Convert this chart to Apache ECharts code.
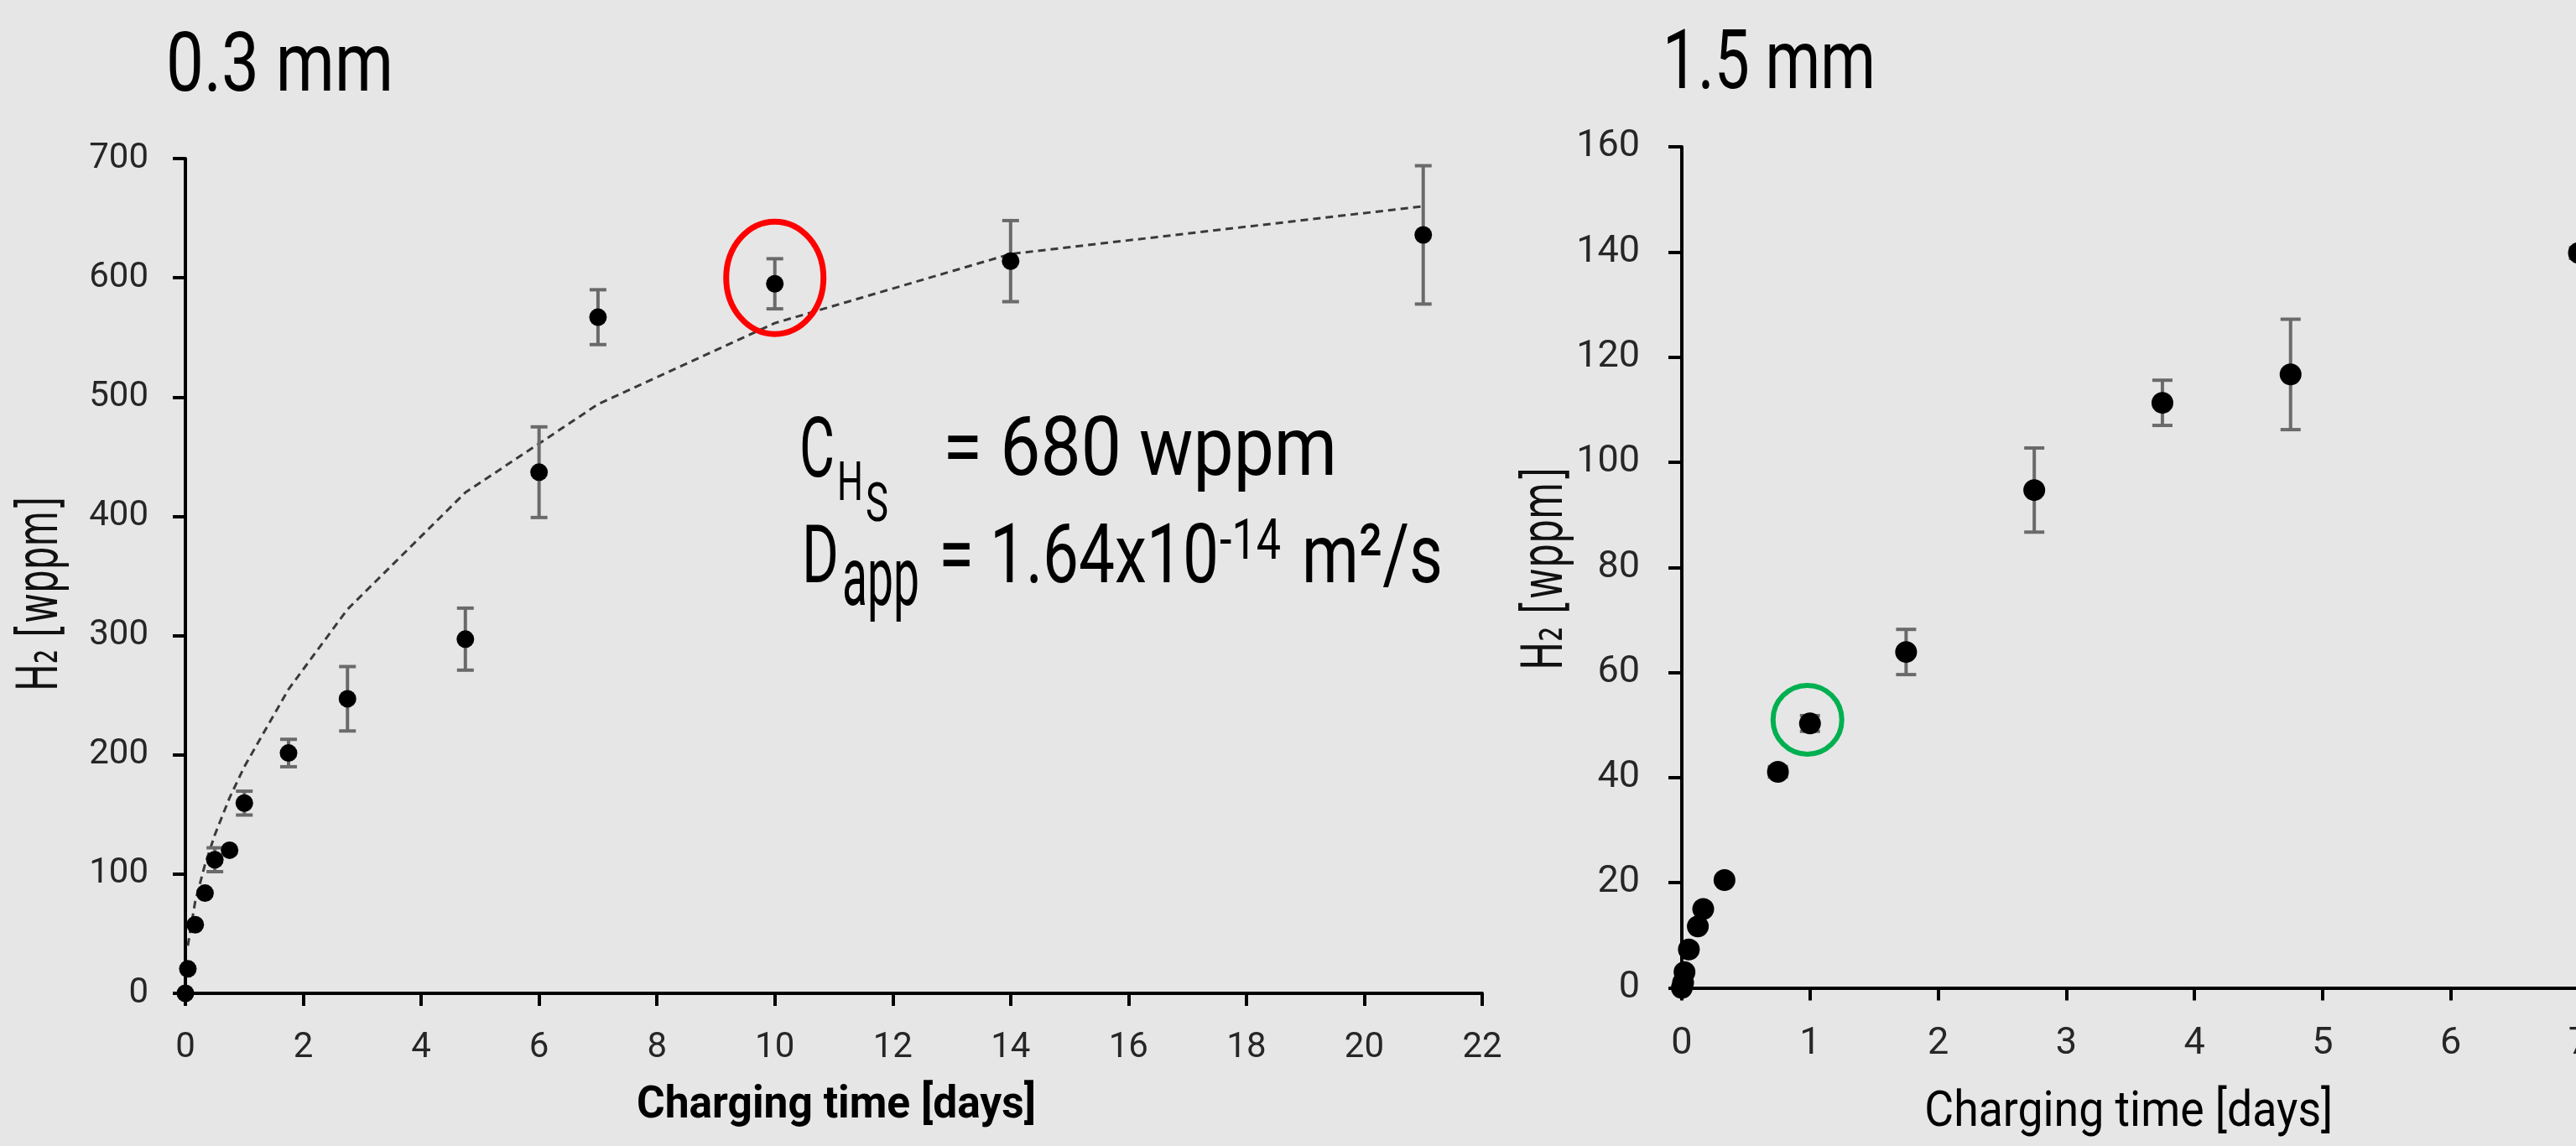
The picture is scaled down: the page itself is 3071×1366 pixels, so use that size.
<!DOCTYPE html>
<html>
<head>
<meta charset="utf-8">
<script src="https://cdn.jsdelivr.net/npm/echarts@6/dist/echarts.min.js"></script>
<style>
html,body{margin:0;padding:0;background:#e6e6e6;}
#c{width:3071px;height:1366px;}
</style>
</head>
<body>
<div id="c"></div>
<script>
// ---------------- DATA ----------------
// 0.3 mm sheet
const daysThin = [0, 0.042, 0.167, 0.333, 0.5, 0.75, 1, 1.75, 2.75, 4.75, 6, 7, 10, 14, 21];
const h2Thin   = [0, 20.5, 57.5, 84, 112, 120, 159.5, 201.5, 247, 297, 437, 567, 595, 614, 636];
const errThin  = [0, 0, 0, 0, 10, 0, 10, 11.5, 27, 26, 38, 23, 21, 34, 58];
// dashed fit curve (0.3 mm)
const fitDaysThin = [0.042, 0.167, 0.333, 0.5, 0.75, 1, 1.75, 2.75, 4.75, 6, 7, 10, 14, 21];
const fitThin     = [40, 77, 108, 133, 164, 190, 255, 322, 420, 461, 494, 562, 620, 660];
// highlighted point (red ring)
const highlightThin = [10, 600];

// 1.5 mm sheet
const daysThick = [0, 0.01, 0.021, 0.055, 0.125, 0.167, 0.333, 0.75, 1, 1.75, 2.75, 3.75, 4.75, 7];
const h2Thick   = [0, 1, 3, 7.3, 11.7, 15, 20.5, 41.1, 50.3, 63.9, 94.7, 111.3, 116.7, 139.8];
const errThick  = [0, 0, 0, 0, 0, 0, 0, 1, 1.5, 4.3, 8, 4.3, 10.5, 1];
// highlighted point (green ring)
const highlightThick = [0.98, 51];

// axis ticks
const xTicksThin  = {min: 0, max: 22, interval: 2};
const yTicksThin  = {min: 0, max: 700, interval: 100};
const xTicksThick = {min: 0, max: 7, interval: 1};
const yTicksThick = {min: 0, max: 160, interval: 20};

// texts
const titleThin = '0.3 mm';
const titleThick = '1.5 mm';
const xName = 'Charging time [days]';
const yName = 'H\u2082 [wppm]';

// ---------------- LAYOUT ----------------
const G1 = {left: 221, top: 189, width: 1546, height: 995};
const G2 = {left: 2005, top: 175, width: 1069.5, height: 1002.5};
const FONT = 'Roboto, "Liberation Sans", sans-serif';
const TICKFONT = 'Roboto, "Liberation Sans", sans-serif';

const mctx = document.createElement('canvas').getContext('2d');
function fitText(str, o) {
  const weight = o.weight || 'normal';
  const fam = o.family || FONT;
  mctx.font = weight + ' ' + o.size + 'px ' + fam;
  const nat = mctx.measureText(str).width || 1;
  const sx = o.width ? o.width / nat : 1;
  return {
    type: 'text', silent: true, z: 20,
    x: o.x,
    y: (o.baseline !== undefined) ? o.baseline - 0.3415 * o.size : o.y,
    rotation: o.rotation || 0,
    scaleX: sx,
    style: {
      text: str, fontSize: o.size, fontFamily: fam, fontWeight: weight,
      fill: o.color || '#000', align: o.align || 'left', verticalAlign: 'middle'
    }
  };
}

function axisCommon(fontSize, margin, tickLen) {
  return {
    axisLine: {show: true, onZero: false, lineStyle: {color: '#000', width: 4}},
    axisTick: {show: true, inside: false, length: tickLen, lineStyle: {color: '#000', width: 4}},
    splitLine: {show: false},
    axisLabel: {color: '#262626', fontSize: fontSize, fontFamily: TICKFONT, margin: margin}
  };
}

function errRender(capHalf, color, lw) {
  return function (params, api) {
    const x = api.value(0), y = api.value(1), e = api.value(2);
    if (!(e > 0)) return {type: 'group', children: []};
    const t = api.coord([x, y + e]);
    const b = api.coord([x, y - e]);
    const st = {stroke: color, lineWidth: lw};
    return {type: 'group', children: [
      {type: 'line', shape: {x1: t[0], y1: t[1], x2: b[0], y2: b[1]}, style: st},
      {type: 'line', shape: {x1: t[0] - capHalf, y1: t[1], x2: t[0] + capHalf, y2: t[1]}, style: st},
      {type: 'line', shape: {x1: b[0] - capHalf, y1: b[1], x2: b[0] + capHalf, y2: b[1]}, style: st}
    ]};
  };
}
function ringRender(rx, ry, color, lw) {
  return function (params, api) {
    const c = api.coord([api.value(0), api.value(1)]);
    return {type: 'ellipse', shape: {cx: c[0], cy: c[1], rx: rx, ry: ry},
            style: {fill: 'none', stroke: color, lineWidth: lw}};
  };
}

const zip3 = (a, b, c) => a.map((v, i) => [v, b[i], c[i]]);
const zip2 = (a, b) => a.map((v, i) => [v, b[i]]);

const chart = echarts.init(document.getElementById('c'), null, {renderer: 'canvas'});

const option = {
  backgroundColor: '#e6e6e6',
  animation: false,
  grid: [
    Object.assign({containLabel: false, outerBoundsMode: 'none'}, G1),
    Object.assign({containLabel: false, outerBoundsMode: 'none'}, G2)
  ],
  xAxis: [
    Object.assign(axisCommon(42, 44, 15), {type: 'value', gridIndex: 0}, xTicksThin),
    Object.assign(axisCommon(45, 45, 15), {type: 'value', gridIndex: 1}, xTicksThick)
  ],
  yAxis: [
    Object.assign(axisCommon(42, 44, 15), {type: 'value', gridIndex: 0}, yTicksThin),
    Object.assign(axisCommon(45, 50, 16), {type: 'value', gridIndex: 1}, yTicksThick)
  ],
  series: [
    {type: 'line', xAxisIndex: 0, yAxisIndex: 0, data: zip2(fitDaysThin, fitThin),
     showSymbol: false, symbol: 'none', silent: true, z: 2,
     lineStyle: {color: '#3a3a3a', width: 3, type: [9, 6]}},
    {type: 'custom', xAxisIndex: 0, yAxisIndex: 0, data: zip3(daysThin, h2Thin, errThin),
     encode: {x: 0, y: 1}, renderItem: errRender(10, '#6a6a6a', 4), silent: true, z: 3, clip: false},
    {type: 'scatter', xAxisIndex: 0, yAxisIndex: 0, data: zip2(daysThin, h2Thin),
     symbol: 'circle', symbolSize: 21, itemStyle: {color: '#000', opacity: 1}, silent: true, z: 4},
    {type: 'custom', xAxisIndex: 0, yAxisIndex: 0, data: [highlightThin], encode: {x: 0, y: 1},
     renderItem: ringRender(58, 67, '#ff0000', 7), silent: true, z: 5, clip: false},

    {type: 'custom', xAxisIndex: 1, yAxisIndex: 1, data: zip3(daysThick, h2Thick, errThick),
     encode: {x: 0, y: 1}, renderItem: errRender(12, '#6a6a6a', 4), silent: true, z: 3, clip: false},
    {type: 'scatter', xAxisIndex: 1, yAxisIndex: 1, data: zip2(daysThick, h2Thick),
     symbol: 'circle', symbolSize: 26, itemStyle: {color: '#000', opacity: 1}, silent: true, z: 4},
    {type: 'custom', xAxisIndex: 1, yAxisIndex: 1, data: [highlightThick], encode: {x: 0, y: 1},
     renderItem: ringRender(41, 41, '#00b050', 6), silent: true, z: 5, clip: false}
  ],
  graphic: {elements: [
    fitText(titleThin,  {x: 198, baseline: 117, size: 98, width: 271}),
    fitText(titleThick, {x: 1982, baseline: 114, size: 98, width: 254}),

    fitText('C', {x: 953, baseline: 577, size: 100, width: 42}),
    fitText('H', {x: 998, baseline: 602, size: 64, width: 31}),
    fitText('S', {x: 1032, baseline: 627, size: 64, width: 27}),
    fitText('= 680 wppm', {x: 1124, baseline: 575, size: 98, width: 470}),
    fitText('D', {x: 956, baseline: 703, size: 96, width: 44}),
    fitText('app', {x: 1004, baseline: 730, size: 98, width: 92}),
    fitText('= 1.64x10', {x: 1119, baseline: 703, size: 98, width: 334}),
    fitText('-14', {x: 1454, baseline: 672, size: 66, width: 73}),
    fitText('m\u00b2/s', {x: 1552, baseline: 703, size: 98, width: 168}),

    fitText(xName, {x: G1.left + G1.width / 2 + 3, baseline: 1337, size: 54, width: 476, weight: 'bold', align: 'center'}),
    fitText(xName, {x: G2.left + G2.width / 2 - 2, baseline: 1347, size: 59, width: 487, align: 'center'}),

    fitText(yName, {x: 50, y: 708, size: 68, width: 232, rotation: Math.PI / 2, align: 'center',
                    family: '"DejaVu Sans", sans-serif', color: '#111'}),
    fitText(yName, {x: 1844, y: 678, size: 68, width: 242, rotation: Math.PI / 2, align: 'center',
                    family: '"DejaVu Sans", sans-serif', color: '#111'})
  ]}
};
chart.setOption(option);
</script>
</body>
</html>
